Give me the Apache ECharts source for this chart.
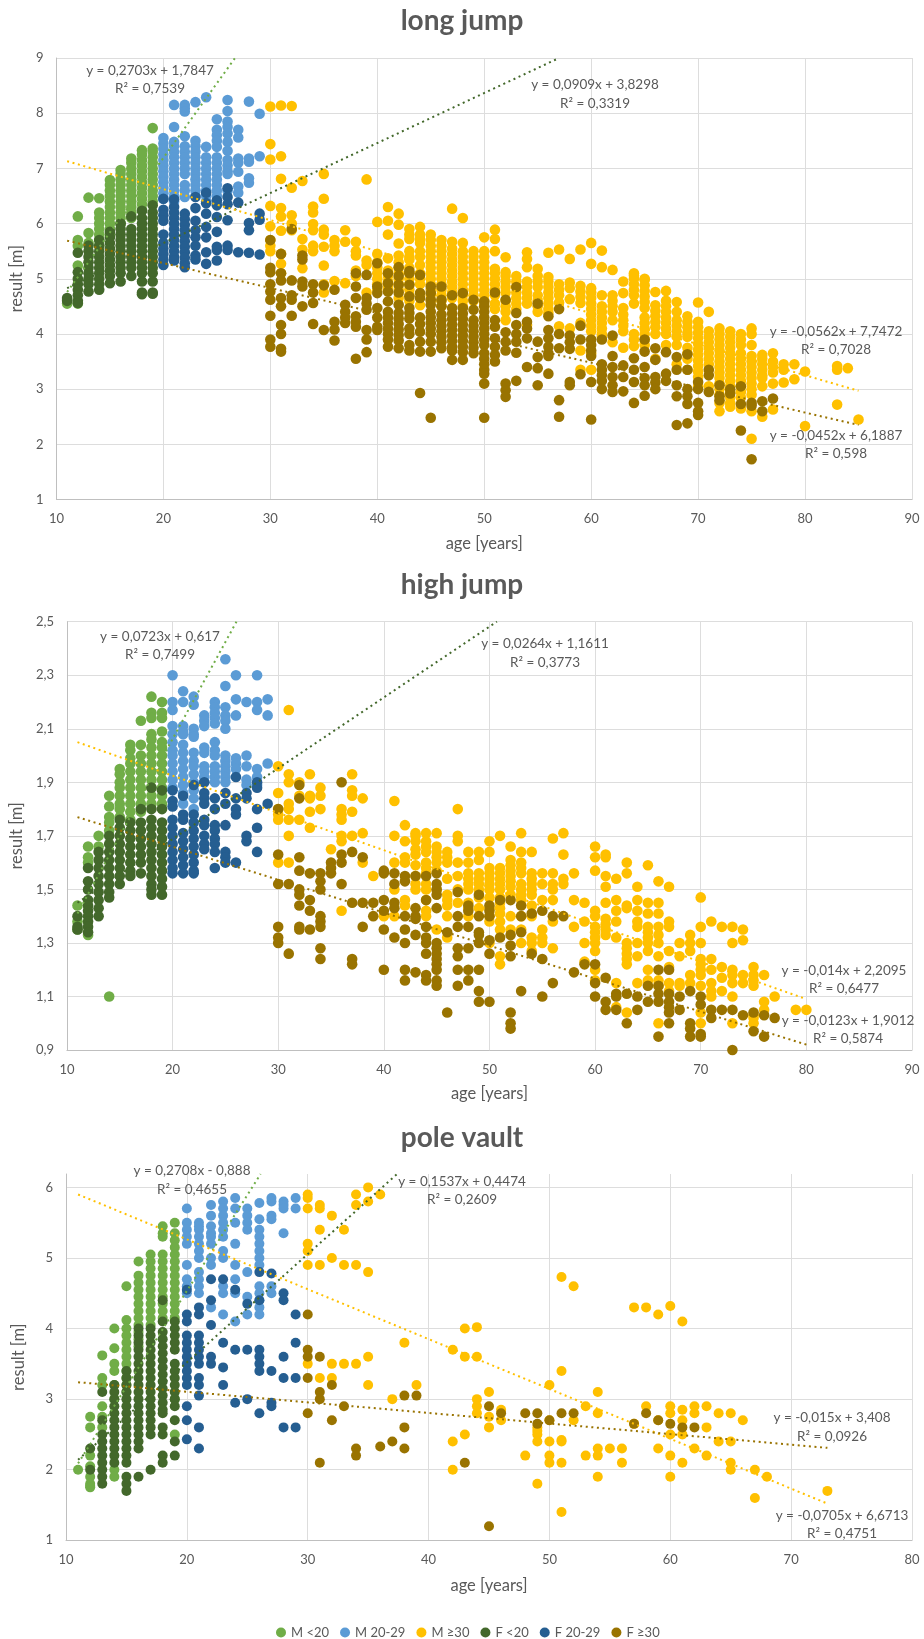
<!DOCTYPE html>
<html><head><meta charset="utf-8">
<style>html,body{margin:0;padding:0;background:#fff}#c{width:924px;height:1639px}</style>
<script src="https://cdn.jsdelivr.net/npm/echarts@6/dist/echarts.min.js"></script>
</head><body><div id="c"></div>
<script>
// Each row: [age, result, result, ...]
// LONG JUMP
const ljMU20=[[11,4.55,4.62],[12,6.13,5.7,5.6,5.24,4.55],[13,6.47,5.83,5.65],[14,6.46,6.2,6.1,6,5.9,5.8,5.7,5.6],
[15,6.79,6.7,6.6,6.5,6.4,6.3,6.2,6.1,6,5.9,5.8],[16,6.97,6.9,6.8,6.7,6.6,6.5,6.4,6.3,6.2,6.1,6],
[17,7.18,7.1,7,6.9,6.8,6.7,6.6,6.5,6.4,6.3,6.2,6.1],[18,7.33,7.25,7.15,7.05,6.95,6.85,6.75,6.65,6.55,6.45,6.35,6.25],
[19,7.73,7.36,7.3,7.2,7.1,7,6.9,6.8,6.7,6.6,6.5,6.4]];
const ljM2029=[[20,7.55,7.45,7.35,7.25,7.15,7.05,6.95,6.85,6.75,6.65,6.55,6.45],[21,8.15,7.75,7.48,7.4,7.3,7.2,7.1,7,6.9,6.8,6.7,6.6,6.5,6.4],
[22,8.15,8.09,8.03,7.58,7.4,7.3,7.2,7.1,7,6.9,6.7,6.6,6.48],[23,8.2,7.5,7.4,7.3,7.2,7.1,7,6.9,6.8,6.7,6.6,6.5],
[24,8.29,7.39,7.2,7.1,7,6.9,6.8,6.7,6.6,6.5,6.4],[25,7.89,7.7,7.6,7.5,7.39,7.2,7.1,7,6.9,6.8,6.7,6.6,6.5,6.42],
[26,8.24,8.04,7.85,7.75,7.63,7.48,7.32,7.15,7.05,6.95,6.9,6.6],[27,7.7,7.56,7.18,7.1,6.94,6.67,6.56],[28,8.21,7.18,7.12,6.82,6.74],[29,7.99,7.22]];
const ljMO30=[[30,8.12,7.44,7.16,6.32,5.95,5.7,5.6,5.5],[31,8.14,7.22,6.81,6.28,6.13,5.87,5.45,5.27,5.1],[32,8.13,6.65,6.15,6,5.88],[33,6.77,5.72,5.53,5.19],
[34,6.31,6.2,5.99,5.88,5.6,5.5],[35,6.9,6.45,5.89,5.8,5.58,5.24,4.9,4.75],[36,5.7,5.6,5.5,4.96],[37,5.88,5.67,4.92],[38,5.67,5.5,5.42,5.15,5.05],
[39,6.8,5.33,5.25,4.75],[40,6.03,5.45,5.3,5.2,5.1,5,4.9,4.8],[41,6.3,6.05,5.8,5.37,5.15,5.05,4.95,4.85],[42,6.18,5.98,5.64,5.42,5.3,5.2,5.1,5,4.9,4.8,4.65],
[43,5.9,5.8,5.72,5.5,5.4,5.35,5.2,5.1,5,4.9,4.8,4.7,4.6],[44,5.94,5.8,5.72,5.65,5.5,5.4,5.25,5.1,5,4.9,4.52],[45,5.8,5.7,5.6,5.5,5.4,5.3,5.2,5.1,5,4.9,4.8,4.7,4.6],
[46,5.7,5.6,5.5,5.4,5.3,5.2,5.1,5,4.9,4.8,4.7,4.6,4.5],[47,6.27,5.67,5.55,5.45,5.35,5.25,5.15,5.05,4.95,4.85,4.75,4.65],[48,6.1,5.65,5.5,5.4,5.3,5.2,5.1,5,4.9,4.8,4.7,4.6,4.5],
[49,5.5,5.4,5.3,5.2,5.1,5,4.9,4.8,4.7,4.6],[50,5.75,5.5,5.4,5.3,5.2,5.1,5,4.9,4.8,4.7,4.6,4.5],[51,5.89,5.72,5.5,5.18,5.1,5,4.9,4.8,4.7,4.55,4.45],
[52,5.39,5.12,5.05,4.95,4.85,4.75,4.6,4.5,4.4,4.25],[53,5.05,4.95,4.85,4.75,4.65,4.55,4.45],[54,5.48,5.36,5.21,4.95,4.85,4.75,4.65,4.55,4.16],
[55,5.18,5.05,4.95,4.85,4.7,4.6,4.5,4.4],[56,5.47,5.03,4.95,4.85,4.75,4.65,4.55,4.45,4.38],[57,5.53,4.9,4.8,4.7,4.57,4.14],[58,5.36,4.93,4.83,4.63,4.1],
[59,5.53,4.87,4.77,4.67,4.56,4.2,3.7,3.35],[60,5.65,5.27,4.83,4.75,4.65,4.55,4.45,4.35,4.25,4.15,4.05,3.65,3.35],[61,5.51,5.21,4.7,4.5,4.4,4.3,4.2,4.1,4,3.95],
[62,5.16,4.7,4.6,4.5,4.4,4.25,3.85],[63,4.95,4.74,4.47,4.35,4.25,4.15,4.05,3.75],[64,5.06,5.1,5,4.9,4.8,4.7,4.55,4,3.9,3.78],[65,5,4.98,4.88,4.78,4.68,4.58,4.47,4.3,4.2,4.1,4,3.9,3.8],
[66,4.76,4.52,4.42,4.32,4.22,4.12,4,3.55],[67,4.78,4.6,4.5,4.4,4.3,4.2,4.1,4,3.8],[68,4.58,4.4,4.25,4.15,4.05,3.95,3.8,3.45],[69,4.32,4.22,4.12,4.02,3.95,3.75,3.65,3.55,3.35],
[70,4.57,4.22,4.12,4.02,3.92,3.82,3.72,3.62,3.52,3.42,3.32,3.22,3.05],[71,4.4,4.05,3.95,3.85,3.75,3.65,3.55,3.45,3.05],[72,4.1,4,3.9,3.8,3.7,3.6,3.5,3.4,3.3,3.2,3.1,3,2.9,2.75,2.6],
[73,4.05,3.95,3.85,3.75,3.65,3.55,3.45,3.35,3.25,3.15,3.05,2.95,2.85,2.75,2.68],[74,4,3.9,3.8,3.65,3.55,3.45,3.35,3.25,3.15,3.05,2.95,2.85,2.65],
[75,4.1,4,3.8,3.6,3.5,3.4,3.3,3.2,3.1,3,2.9,2.6,2.1],[76,3.62,3.55,3.45,3.35,3.25,3.2,3.05,2.5],[77,3.65,3.5,3.4,3.3,3.1,2.63],[78,3.45,3.35,3.12],[79,3.45,3.18],[80,3.32,2.33],[83,3.42,3.35,2.72],[84,3.38],[85,2.45]];
const ljFU20=[[11,4.6,4.65],[12,5.47,5.12,5,4.9,4.8,4.7,4.6,4.56],[13,5.6,5.5,5.4,5.3,5.2,5.1,5,4.9,4.77],[14,5.7,5.6,5.5,5.4,5.3,5.2,5.1,5,4.9,4.8],
[15,5.85,5.75,5.65,5.55,5.45,5.35,5.25,5.15,5.05,4.92],[16,6,5.9,5.8,5.7,5.6,5.5,5.4,5.3,5.2,5.1,4.95],[17,6.13,5.9,5.8,5.7,5.6,5.5,5.4,5.3,5.2,5.05],
[18,6.23,6.1,6,5.9,5.8,5.7,5.6,5.5,5.4,5.3,5.2,5.1,4.95,4.75,4.72],[19,6.33,6.2,6.1,6,5.9,5.8,5.7,5.6,5.5,5.4,5.3,5.2,5.1,4.95,4.75,4.73]];
const ljF2029=[[20,6.45,6.25,6.15,6.05,5.8,5.65,5.55,5.45,5.35,5.25],[21,6.44,6.3,6.2,6.1,6,5.9,5.8,5.7,5.6,5.5,5.4,5.33],[22,6.18,6.08,5.98,5.88,5.78,5.68,5.58,5.48,5.38,5.28,5.21],
[23,6.48,6.28,6.05,5.88,5.75,5.6,5.42,5.35],[24,6.56,6.37,6.18,5.94,5.75,5.48,5.27],[25,6.42,6.33,6.12,5.85,5.58,5.52,5.33],[26,6.64,6.48,6.35,6.06,5.6,5.52],[27,6.38,5.48],[28,6.01,5.88,5.47],[29,6.18,6.07,5.44]];
const ljFO30=[[30,5.7,5.2,5.12,4.9,4.77,4.62,4.33,3.9,3.77],[31,5.45,5.1,4.97,4.65,4.5,4.16,4,3.73,3.68],[32,5.9,4.97,4.7,4.62,4.33],[33,5.42,5.35,4.95,4.86,4.5],[34,4.9,4.75,4.56,4.18],
[35,4.88,4.07],[36,4.8,4.22,4.08,3.88],[37,4.53,4.4,4.3,4.2],[38,5.1,4.86,4.65,4.32,4.22,4.13,3.55],[39,5.07,4.65,4.55,4.44,4.07,3.9,3.67],[40,5.28,4.86,4.74,4.47,4.3,4.13,4.07],
[41,5.1,4.92,4.77,4.59,4.4,4.3,4.2,4.1,4,3.9,3.77],[42,5.21,5.05,4.89,4.75,4.53,4.38,4.28,4.18,4.08,3.98,3.88,3.74],[43,5.14,5.1,4.89,4.68,4.47,4.38,4.28,4.1,4,3.8,3.7],
[44,5.07,4.74,4.65,4.3,4.18,4.04,3.86,3.68,2.93],[45,4.86,4.74,4.62,4.53,4.4,4.3,4.2,4.1,4,3.86,3.68,2.48],[46,4.86,4.62,4.5,4.35,4.25,4.15,4.05,3.95,3.85,3.74],[47,4.7,4.47,4.37,4.27,4.17,4.07,3.97,3.87,3.77,3.7,3.53],
[48,4.74,4.47,4.37,4.27,4.17,4.07,3.97,3.87,3.77,3.67,3.53],[49,4.62,4.44,4.25,4.15,4.05,3.95,3.85,3.75,3.65],[50,4.59,4.5,4.4,4.3,4.2,4.1,4,3.9,3.8,3.65,3.55,3.45,3.35,3.28,3.1,2.48],
[51,4.75,4.25,4.13,3.92,3.77,3.62,3.5],[52,4.62,4.03,3.86,3.7,3.1,2.98,2.86],[53,4.85,4.38,4.16,4,3.86,3.66,3.15],[54,4.22,4.1,3.92,3.4],[55,4.55,3.86,3.58,3.38,3.07],[56,4.32,4.07,3.92,3.77,3.65,3.6,3.28],
[57,4.45,4,3.74,2.8,2.5],[58,3.97,3.85,3.73,3.13,3.07],[59,4.15,3.9,3.27],[60,3.9,3.8,3.7,3.6,3.13,2.45],[61,3.9,3.45,3.35,3.25,3.15,3],[62,3.97,3.6,3.4,3.22,3.07,2.95],[63,3.43,3.22,2.96],[64,3.56,3.35,3.13,2.75],
[65,3.9,3.68,3.4,3.2,3.07,2.88],[66,3.74,3.53,3.22,3.12,3],[67,3.67,3.28,3.15],[68,3.58,3.35,3.07,2.87,2.35],[69,3.63,3.35,3,2.87,2.73,2.38],[70,3.13,3,2.75,2.6,2.53],[71,3.35,3.25,2.95],[72,3.07,2.87,2.8],[73,3,2.92],[74,3.05,2.73,2.25],[75,2.75,2.7,1.73],[76,2.78,2.6],[77,2.83]];
// HIGH JUMP
const hjMU20=[[11,1.44,1.38,1.35],[12,1.66,1.62,1.6,1.33],[13,1.7,1.66],[14,1.85,1.81,1.77,1.75,1.72,1.1],[15,1.95,1.93,1.9,1.88,1.85,1.82,1.8,1.77],[16,2.04,2.02,1.99,1.97,1.94,1.91,1.88,1.85,1.82,1.79,1.76],
[17,2.13,2.04,2,1.97,1.94,1.91,1.88,1.85,1.82,1.79],[18,2.22,2.16,2.14,2.08,2.06,2.03,2,1.97,1.94,1.91,1.88,1.85,1.82],[19,2.2,2.16,2.14,2.09,2.05,2.03,2,1.97,1.94,1.91,1.88,1.85,1.82]];
const hjM2029=[[20,2.3,2.2,2.17,2.11,2.08,2.05,2.02,2,1.97,1.94,1.91,1.88],[21,2.24,2.2,2.11,2.09,2.08,2.04,2.01,1.98,1.95,1.92,1.89,1.86,1.82],[22,2.22,2.19,2.1,2.08,2.07,2.01,1.98,1.96,1.93,1.9,1.87,1.84,1.8],
[23,2.15,2.13,2.11,2.03,2.01,1.96,1.94,1.92,1.9],[24,2.2,2.18,2.16,2.14,2.12,2.05,2.02,2,1.96,1.94,1.92,1.9],[25,2.36,2.26,2.18,2.15,2.13,2.1,2,1.98,1.96,1.94,1.92,1.9],[26,2.3,2.21,2.15,1.99,1.97,1.95],[27,2.2,2,1.96,1.91,1.89],[28,2.3,2.2,2.17,1.95,1.92,1.89],[29,2.21,2.15,1.97]];
const hjMO30=[[30,1.96,1.86,1.8,1.78,1.76,1.6],[31,2.17,1.93,1.9,1.82,1.8,1.76,1.7,1.6],[32,1.9,1.85,1.76],[33,1.93,1.85,1.84,1.79,1.73],[34,1.88,1.85,1.8],[35,1.65],[36,1.8,1.78,1.76,1.7,1.68,1.42],[37,1.93,1.87,1.85,1.79,1.7],[38,1.84,1.71,1.6],[39,1.55],[40,1.4],[41,1.83,1.7,1.6,1.5,1.4],
[42,1.74,1.68,1.62,1.6,1.46,1.44],[43,1.71,1.7,1.68,1.65,1.63,1.59,1.55,1.52,1.5],[44,1.71,1.68,1.66,1.64,1.6,1.58,1.56,1.52,1.5,1.46,1.42,1.4],[45,1.71,1.66,1.64,1.62,1.6,1.57,1.5,1.35],[46,1.64,1.62,1.6,1.54,1.48,1.46,1.44,1.4,1.32],[47,1.8,1.7,1.68,1.6,1.55,1.5,1.45],
[48,1.64,1.6,1.56,1.54,1.52,1.5,1.45,1.43,1.4],[49,1.64,1.61,1.56,1.54,1.52,1.5,1.47,1.43],[50,1.68,1.64,1.58,1.56,1.54,1.52,1.5,1.47,1.43,1.4,1.38,1.3],[51,1.7,1.58,1.56,1.54,1.52,1.5,1.47,1.45,1.43,1.41,1.38,1.35,1.25,1.22],[52,1.66,1.61,1.59,1.57,1.55,1.53,1.51,1.48,1.4,1.35],
[53,1.71,1.64,1.6,1.58,1.56,1.52,1.5,1.48,1.46,1.4,1.35,1.3],[54,1.64,1.56,1.54,1.52,1.5,1.48,1.44,1.4,1.32,1.3,1.27],[55,1.56,1.52,1.46,1.35,1.32,1.3],[56,1.69,1.56,1.52,1.5,1.46,1.38,1.28],[57,1.71,1.63,1.54,1.52],[58,1.56,1.46,1.36],[59,1.45,1.38,1.3,1.23],
[60,1.66,1.62,1.57,1.42,1.4,1.36,1.34,1.32,1.3,1.27,1.2,1.16],[61,1.63,1.62,1.55,1.51,1.45,1.39,1.37,1.35,1.33],[62,1.54,1.46,1.42,1.38,1.32,1.15,1.06],[63,1.6,1.56,1.44,1.43,1.3,1.28,1.26,1.24,1.22,1.04],[64,1.51,1.46,1.42,1.38,1.36,1.3,1.25,1.15],
[65,1.59,1.45,1.41,1.36,1.34,1.32,1.3,1.27,1.2,1.16],[66,1.53,1.45,1.41,1.36,1.33,1.3,1.25,1.16,1.14,1],[67,1.51,1.38,1.36,1.27,1.21,1.15,1.12],[68,1.3,1.25,1.15,1.14],[69,1.33,1.3,1.27,1.18,1.15],[70,1.47,1.36,1.3,1.24,1.22,1.2,1.18,1.14,1.04,1],[71,1.38,1.24,1.2,1.15,1.12,1.1],[72,1.36,1.21,1.17,1.12],[73,1.36,1.3,1.2,1.18,1.15,1.1,1],[74,1.35,1.31,1.18,1.15],[75,1.21,1.18,1.16,1.14,1.03,1.02,1],[76,1.18,1.08,1.05],[77,1.1],[79,1.05],[80,1.05]];
const hjFU20=[[11,1.4,1.36,1.35],[12,1.58,1.53,1.5,1.46,1.44,1.42,1.4,1.38,1.36,1.34],[13,1.64,1.61,1.58,1.55,1.52,1.49,1.46,1.43,1.4],[14,1.7,1.67,1.64,1.61,1.58,1.55,1.52,1.49,1.47],[15,1.76,1.73,1.7,1.67,1.64,1.61,1.58,1.55,1.52],
[16,1.75,1.72,1.69,1.66,1.63,1.6,1.57,1.55],[17,1.8,1.75,1.72,1.69,1.66,1.63,1.6,1.56],[18,1.88,1.8,1.76,1.73,1.7,1.67,1.64,1.61,1.58,1.55,1.52,1.5,1.48],[19,1.87,1.8,1.75,1.72,1.69,1.66,1.63,1.6,1.57,1.54,1.51,1.48]];
const hjF2029=[[20,1.87,1.83,1.81,1.76,1.73,1.7,1.67,1.64,1.61,1.58,1.56],[21,1.85,1.78,1.76,1.71,1.68,1.65,1.62,1.59,1.56],[22,1.89,1.78,1.75,1.72,1.69,1.66,1.63,1.6,1.57,1.56],[23,1.9,1.86,1.84,1.82,1.76,1.74,1.7,1.67,1.65],[24,1.84,1.8,1.74,1.72,1.69,1.67,1.64,1.58],[25,1.86,1.82,1.74,1.64,1.62,1.6],[26,1.92,1.84,1.8,1.78,1.6],[27,1.86,1.84,1.7,1.68],[28,1.9,1.88,1.8,1.73,1.64],[29,1.82]];
const hjFO30=[[30,1.8,1.63,1.52,1.36,1.32,1.3],[31,1.52,1.26],[32,1.89,1.84,1.62,1.57,1.5,1.48,1.44,1.36,1.35],[33,1.56,1.46,1.42,1.35],[34,1.56,1.53,1.5,1.4,1.38,1.36,1.28,1.24],[35,1.6,1.58,1.56],[36,1.9,1.63,1.6,1.52],[37,1.64,1.45,1.24,1.22],[38,1.62,1.45,1.36],[39,1.45,1.4],[40,1.57,1.56,1.46,1.42,1.35,1.2],[41,1.56,1.52,1.45,1.43,1.32],
[42,1.55,1.53,1.4,1.35,1.3,1.2,1.16],[43,1.55,1.43,1.4,1.39,1.33,1.19],[44,1.55,1.46,1.36,1.32,1.3,1.26,1.18,1.16],[45,1.56,1.52,1.5,1.48,1.43,1.3,1.28,1.26,1.24,1.22,1.2,1.16,1.14],[46,1.34,1.04],[47,1.49,1.4,1.36,1.28,1.25,1.2,1.14],[48,1.44,1.42,1.36,1.28,1.2,1.16],[49,1.48,1.4,1.34,1.33,1.3,1.2,1.12,1.08],[50,1.44,1.42,1.4,1.31,1.26,1.08],[51,1.46,1.32],[52,1.46,1.33,1.29,1.25,1.04,1,0.98],[53,1.44,1.4,1.34,1.12],[54,1.41,1.26],[55,1.42,1.24,1.1],[56,1.4,1.15],[57,1.4],[58,1.19],[59,1.22],[60,1.22,1.15,1.1],[61,1.17,1.08,1.05],[62,1.11,1.1,1.05],[63,1.11,1],[64,1.1,1.05],[65,1.14,1.08],[66,1.2,1.14,1.11,1.08,0.95],[67,1.2,1.11,1.08,1.06,1.04,1],[68,1.1,1.05],[69,1.12,1,0.98,0.95],[70,1.1,1.07,0.96,0.95],[71,1.05,1.02],[72,1.05],[73,1.05,0.9],[74,1.03],[75,1.04,0.97],[76,1.03,0.95],[77,1.02]];
// POLE VAULT
const pvMU20=[[11,2],[12,2.75,2.6,2.2,2.05,1.9,1.8,1.77,1.75],[13,3.62,3.3,3.2,2.9,2.75,2.6],[14,4,3.72,3.5,3.4,3.2,3,2,1.9],[15,4.6,4.12,4,3.9,3.8,3.7,3.6,3.5,3.4,3.3,3.2,3.1],[16,4.95,4.75,4.65,4.55,4.45,4.35,4.25,4.15,4.05,3.95,3.85,3.75],[17,5.05,4.95,4.85,4.75,4.65,4.55,4.45,4.35,4.25,4.15,4.05],[18,5.45,5.35,5.3,5.05,4.95,4.85,4.75,4.65,4.55,4.45,4.35,4.25,4.15],[19,5.5,5.35,5.25,5.15,5.05,4.95,4.85,4.75,4.65,4.55,4.45,4.35,4.25,4.15,3,2.5]];
const pvM2029=[[20,5.7,5.5,5.4,5.3,5.2,4.9,4.7,4.6,4.5],[21,5.5,5.45,5.4,5.3,5.2,5.1,5,4.8,4.7,4.6,4.5],[22,5.75,5.6,5.45,5.35,5.3,5.2,5,4.9,4.3],[23,5.8,5.7,5.6,5.5,5.4,5.3,5.1,5,4.6,4.5,4.2],[24,5.85,5.7,5.5,5.2,4.9,4.7,4.5,4.1],[25,5.7,5.6,5.5,5.4,4.8,4.45,4.2],[26,5.78,5.55,5.4,5.3,5.2,5.1,5,4.9,4.6,4.5,4.4,4.3,4.2],[27,5.85,5.8,5.6,5.55,4.6,4.5],[28,5.8,5.75,5.7,5.35],[29,5.85,5.7]];
const pvMO30=[[30,5.9,5.85,5.7,5.2,5.1,4.9,3.5],[31,5.75,5.7,5.4,4.9,3.3],[32,5.6,5,3.5,3.3],[33,5.4,4.9,3.5],[34,5.9,5.75,4.9,3.5],[35,6,5.8,4.8,3.6,3.2],[36,5.9],[37,3],[38,3.8],[39,3.2],[42,3.7,2.4,2],[43,4,3.6,2.5],[44,4.02,3.6,3,2.9,2.8],[45,3.1,2.75,2.6],[46,2.85,2.7],[48,2.2],[49,2.6,2.55,2.5,2.4,1.8],[50,3.2,2.7,2.4,2.2,2.1],[51,4.73,3.4,2.42,2.4,2.1,1.4],[52,4.6,2.7],[53,2.9,2.2],[54,3.1,2.8,2.3,2.2,1.9],[55,2.3],[56,2.3,2.1],[57,4.3,2.65],[58,4.3,2.9],[59,4.2,2.7,2.3],[60,4.32,2.9,2.8,2.5,2.2,1.9],[61,4.1,2.85,2.7,2.5,2.1],[62,2.9,2.8,2.3],[63,2.9,2.6,2.2],[64,2.8,2.4],[65,2.8,2.4,2.1,2],[66,2.7],[67,2,1.6],[68,1.9],[73,1.7]];
const pvFU20=[[12,2.3,2],[13,3.1,2.7,2.5,2.4,2.3,2.2,2.1,2,1.9,1.8],[14,3.2,3.1,3,2.9,2.8,2.7,2.6,2.5,2.4,2.3,2.2,2.1],[15,3.4,3.3,3.2,3.1,3,2.9,2.8,2.7,2.6,2.5,2.4,2.3,2.2,2.1,1.9,1.8,1.7],[16,4,3.9,3.8,3.7,3.6,3.5,3.4,3.3,3.2,3.1,3,2.9,2.8,2.7,2.6,2.5,2.4,2.3,1.9],[17,4,3.9,3.8,3.7,3.6,3.5,3.4,3.3,3.2,3.1,3,2.9,2.8,2.7,2.6,2.5,2],[18,4.4,4.1,3.95,3.85,3.75,3.65,3.55,3.45,3.35,3.25,3.15,3.05,2.95,2.85,2.8,2.6,2.5,2.2,2.1],[19,4.1,4,3.9,3.8,3.7,3.5,3.4,3.3,3.2,3.1,3,2.9,2.7,2.4,2.2]];
const pvF2029=[[20,4.55,4.2,4.1,3.9,3.8,3.7,3.6,3.5,3.4,3.3,3.2,2.9,2.7,2.43],[21,4.3,4.2,3.9,3.8,3.7,3.6,3.5,3.3,3.2,3.05,2.6,2.3],[22,4.7,4.4,4.05,3.6,3.5],[23,4.7,3.8,3.45,3.2],[24,4.55,3.7,2.95],[25,4.35,3.7,3],[26,4.8,4.4,3.7,3.6,3.5,3.4,2.8],[27,4.78,3.4,2.95,2.9],[28,4.5,4.4,3.6,3.3,2.6],[29,4.2,3.8,3.3,2.6]];
const pvFO30=[[30,4.2,3.7,3.6,3.3,2.8],[31,3.6,3.1,3,2.1],[32,3.2,2.7],[33,2.9],[34,2.3,2.2],[36,2.33],[37,2.4],[38,3.05,2.6,2.3],[39,3.05],[43,2.1],[45,2.9,1.2],[46,2.8],[48,2.8],[49,2.8,2.65],[50,2.7],[51,2.8],[52,2.8],[57,2.65],[58,2.8],[59,2.7],[60,2.65],[61,2.6],[62,2.6]];
// Trend lines: [age, result] start and end as seen
const ljTrends=[[[11,4.76],[26.7,9]],[[11,4.83],[57,9]],[[11,7.13],[85,2.97]],[[11,5.69],[85,2.35]]];
const hjTrends=[[[11,1.41],[26.05,2.5]],[[11,1.45],[50.7,2.5]],[[11,2.05],[80,1.09]],[[11,1.77],[80,0.92]]];
const pvTrends=[[[11,2.09],[26.1,6.19]],[[11,2.14],[37.4,6.19]],[[11,5.9],[73,1.52]],[[11,3.24],[73,2.31]]];
// Tick labels
const ljTicksY=[1,2,3,4,5,6,7,8,9];
const hjTicksY=[0.9,1.1,1.3,1.5,1.7,1.9,2.1,2.3,2.5];
const pvTicksY=[1,2,3,4,5,6];
const seriesNames=['M <20','M 20-29','M ≥30','F <20','F 20-29','F ≥30'];
const seriesColors=['#70AD47','#5B9BD5','#FFC000','#43682B','#255E91','#997300'];
const trendColors=['#70AD47','#43682B','#FFC000','#997300'];
const titles=['long jump','high jump','pole vault'];
const eqLabels=[
 ['y = 0,2703x + 1,7847','R² = 0,7539',150,71,89],
 ['y = 0,0909x + 3,8298','R² = 0,3319',595,85,104],
 ['y = -0,0562x + 7,7472','R² = 0,7028',836,332,350],
 ['y = -0,0452x + 6,1887','R² = 0,598',836,436,454],
 ['y = 0,0723x + 0,617','R² = 0,7499',160,637,655],
 ['y = 0,0264x + 1,1611','R² = 0,3773',545,644,663],
 ['y = -0,014x + 2,2095','R² = 0,6477',844,971,989],
 ['y = -0,0123x + 1,9012','R² = 0,5874',848,1021,1039],
 ['y = 0,2708x - 0,888','R² = 0,4655',192,1171,1190],
 ['y = 0,1537x + 0,4474','R² = 0,2609',462,1182,1200],
 ['y = -0,015x + 3,408','R² = 0,0926',832,1418,1437],
 ['y = -0,0705x + 6,6713','R² = 0,4751',842,1516,1534]
];
const FONT='Lato, Carlito, sans-serif', TXT='#595959';
const charts=[
 {data:[ljMU20,ljM2029,ljMO30,ljFU20,ljF2029,ljFO30],trends:ljTrends,ticks:ljTicksY,x:[10,90],y:[1,9],g:{left:54,right:12,top:58,height:441.5},dec:0,titleTop:2,size:10.6,xGap:35.5,yGap:27},
 {data:[hjMU20,hjM2029,hjMO30,hjFU20,hjF2029,hjFO30],trends:hjTrends,ticks:hjTicksY,x:[10,90],y:[0.9,2.5],g:{left:65.7,right:12,top:621.7,height:428.3},dec:1,titleTop:566,size:10.6,xGap:35,yGap:39},
 {data:[pvMU20,pvM2029,pvMO30,pvFU20,pvF2029,pvFO30],trends:pvTrends,ticks:pvTicksY,x:[10,80],y:[1,6.19],g:{left:66,right:12,top:1174,height:366.3},dec:0,titleTop:1119,size:10,xGap:36.5,yGap:39}
];
const flat=rows=>rows.flatMap(r=>r.slice(1).map(v=>[r[0],v]));
const grid=[],xAxis=[],yAxis=[],series=[],title=[];
charts.forEach((c,i)=>{
 grid.push(c.g);
 title.push({text:titles[i],left:'center',top:c.titleTop,textStyle:{fontFamily:FONT,fontSize:28,fontWeight:'bold',color:TXT}});
 xAxis.push({type:'value',gridIndex:i,min:c.x[0],max:c.x[1],interval:10,name:'age [years]',nameLocation:'middle',nameGap:c.xGap,
  nameTextStyle:{fontFamily:FONT,fontSize:16.5,color:TXT},axisLine:{onZero:false,show:true,lineStyle:{color:'#BFBFBF',width:1}},axisTick:{show:false},
  axisLabel:{fontFamily:FONT,fontSize:13,color:TXT,margin:13},splitLine:{show:true,lineStyle:{color:'#DDDDDD',width:1}}});
 yAxis.push({type:'value',gridIndex:i,min:c.y[0],max:c.y[1],name:'result [m]',nameLocation:'middle',nameGap:c.yGap,
  nameTextStyle:{fontFamily:FONT,fontSize:16.5,color:TXT},axisLine:{onZero:false,show:true,lineStyle:{color:'#BFBFBF',width:1}},
  axisTick:{show:false,customValues:c.ticks},
  axisLabel:{customValues:c.ticks,fontFamily:FONT,fontSize:13,color:TXT,margin:13,formatter:v=>v.toFixed(c.dec).replace('.',',')},
  splitLine:{show:true,lineStyle:{color:'#DDDDDD',width:1}}});
 c.data.forEach((rows,s)=>series.push({type:'scatter',name:seriesNames[s],xAxisIndex:i,yAxisIndex:i,data:flat(rows),symbol:'circle',symbolSize:c.size,
  itemStyle:{color:seriesColors[s],opacity:1},z:2+s,silent:true,progressive:0,large:false}));
 c.trends.forEach((t,s)=>series.push({type:'line',name:'trend'+i+s,xAxisIndex:i,yAxisIndex:i,data:t,symbol:'none',silent:true,z:20,
  lineStyle:{color:trendColors[s],width:2,type:[2,3.6]}}));
});
const graphic=[];
eqLabels.forEach(l=>{[[l[0],l[3]],[l[1],l[4]]].forEach(p=>graphic.push({type:'text',x:l[2],y:p[1],z:100,silent:true,
 style:{text:p[0],textAlign:'center',textVerticalAlign:'middle',fontFamily:FONT,fontSize:13.5,fill:TXT}}));});
const ec=echarts.init(document.getElementById('c'),null,{renderer:'canvas',width:924,height:1639});
ec.setOption({animation:false,backgroundColor:'#fff',title,grid,xAxis,yAxis,series,graphic,tooltip:{show:false},
 legend:{data:seriesNames.map((n,i)=>({name:n,icon:'circle',itemStyle:{color:seriesColors[i]}})),left:271,top:1621,itemWidth:10,itemHeight:10,itemGap:11,
  textStyle:{fontFamily:FONT,fontSize:13,color:TXT},selectedMode:false}});
</script></body></html>
